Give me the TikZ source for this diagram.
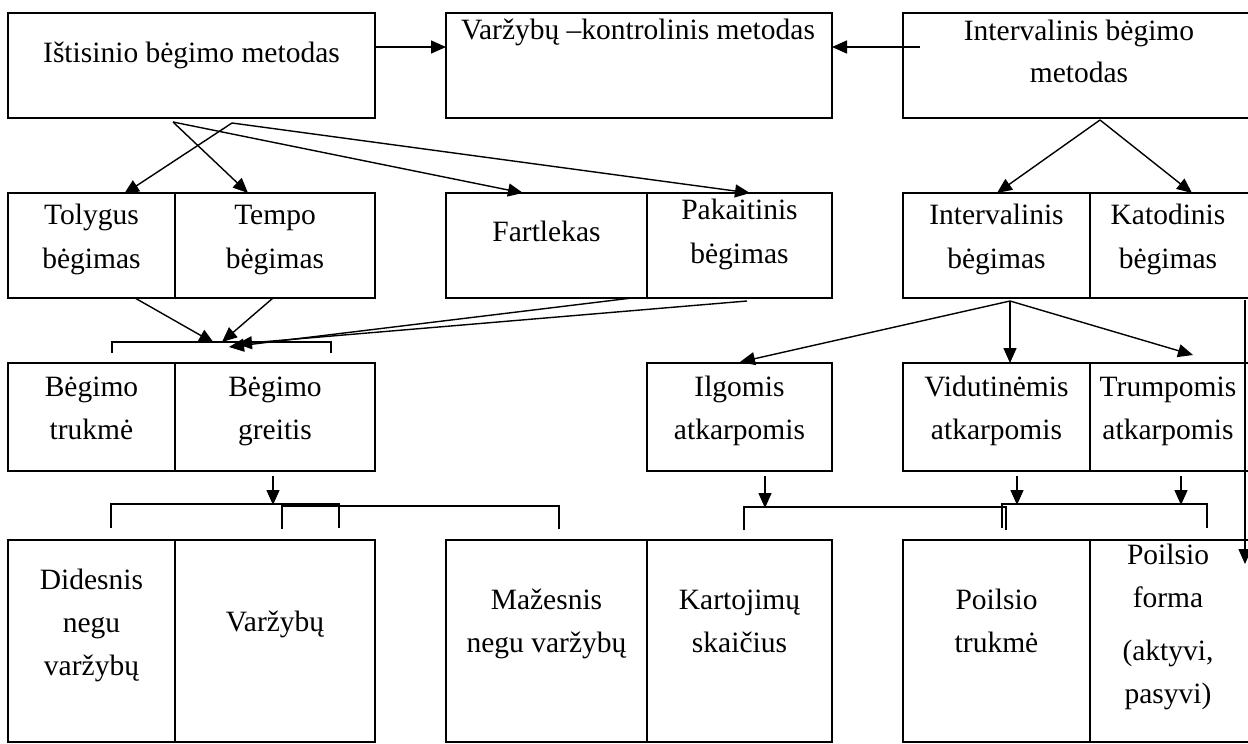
\documentclass[tikz,border=0pt]{standalone}
\usepackage{fontspec}
\setmainfont{Liberation Serif}
\usetikzlibrary{arrows.meta}
\newcommand{\mlines}[1]{\begin{tabular}[t]{@{}c@{}}#1\end{tabular}}
\begin{document}
\begin{tikzpicture}[x=1pt,y=-1pt,
  box/.style={draw, line width=1.6pt, anchor=north west, inner sep=0pt, outer sep=0pt},
  txt/.style={anchor=base, inner sep=0pt, font=\fontsize{29.5}{43}\selectfont},
  arr/.style={line width=1.4pt, -{Triangle[length=15pt,width=13pt]}},
  ln/.style={line width=1.4pt}]
\useasboundingbox (0,0) rectangle (1248,744);
\fill[white] (0,0) rectangle (1248,744);
% row 1
\node[box, minimum width=367pt, minimum height=105pt] (b1) at (8,13) {};
\node[box, minimum width=386pt, minimum height=105pt] (b2) at (446,13) {};
\node[box, minimum width=346pt, minimum height=105pt] (b3) at (903,13) {};
% row 2
\node[box, minimum width=167pt, minimum height=105pt] (r2a) at (8,193) {};
\node[box, minimum width=200pt, minimum height=105pt] (r2b) at (175,193) {};
\node[box, minimum width=201pt, minimum height=105pt] (r2c) at (446,193) {};
\node[box, minimum width=185pt, minimum height=105pt] (r2d) at (647,193) {};
\node[box, minimum width=187pt, minimum height=105pt] (r2e) at (903,193) {};
\node[box, minimum width=159pt, minimum height=105pt] (r2f) at (1090,193) {};
% row 3
\node[box, minimum width=167pt, minimum height=108pt] (r3a) at (8,363) {};
\node[box, minimum width=200pt, minimum height=108pt] (r3b) at (175,363) {};
\node[box, minimum width=185pt, minimum height=108pt] (r3c) at (647,363) {};
\node[box, minimum width=187pt, minimum height=108pt] (r3d) at (903,363) {};
\node[box, minimum width=159pt, minimum height=108pt] (r3e) at (1090,363) {};
% row 4
\node[box, minimum width=167pt, minimum height=202pt] (r4a) at (8,540) {};
\node[box, minimum width=200pt, minimum height=202pt] (r4b) at (175,540) {};
\node[box, minimum width=201pt, minimum height=202pt] (r4c) at (446,540) {};
\node[box, minimum width=185pt, minimum height=202pt] (r4d) at (647,540) {};
\node[box, minimum width=187pt, minimum height=202pt] (r4e) at (903,540) {};
\node[box, minimum width=159pt, minimum height=202pt] (r4f) at (1090,540) {};
% texts
\node[txt] (t1) at (191.5,62) {Ištisinio bėgimo metodas};
\node[txt] (t2) at (638,39) {Varžybų –kontrolinis metodas};
\node[txt] (t3) at (1079,40) {\mlines{Intervalinis bėgimo\\[-1pt]metodas}};
\node[txt] (t2a) at (91.5,224) {\mlines{Tolygus\\[1pt]bėgimas}};
\node[txt] (t2b) at (275,224) {\mlines{Tempo\\[1pt]bėgimas}};
\node[txt] (t2c) at (546.5,241) {Fartlekas};
\node[txt] (t2d) at (739.5,219) {\mlines{Pakaitinis\\[1pt]bėgimas}};
\node[txt] (t2e) at (996.5,224) {\mlines{Intervalinis\\[1pt]bėgimas}};
\node[txt] (t2f) at (1168,224) {\mlines{Katodinis\\[1pt]bėgimas}};
\node[txt] (t3a) at (91.5,396) {\mlines{Bėgimo\\trukmė}};
\node[txt] (t3b) at (275,396) {\mlines{Bėgimo\\greitis}};
\node[txt] (t3c) at (739.5,396) {\mlines{Ilgomis\\atkarpomis}};
\node[txt] (t3d) at (996.5,396) {\mlines{Vidutinėmis\\atkarpomis}};
\node[txt] (t3e) at (1168,396) {\mlines{Trumpomis\\atkarpomis}};
\node[txt] (t4a) at (91.5,589) {\mlines{Didesnis\\negu\\varžybų}};
\node[txt] (t4b) at (275,631) {Varžybų};
\node[txt] (t4c) at (546.5,609) {\mlines{Mažesnis\\negu varžybų}};
\node[txt] (t4d) at (739.5,609) {\mlines{Kartojimų\\skaičius}};
\node[txt] (t4e) at (996.5,609) {\mlines{Poilsio\\trukmė}};
\node[txt] (t4f) at (1168,564) {\mlines{Poilsio\\forma\\[10pt](aktyvi,\\pasyvi)}};
% connectors row 1
\draw[arr] ([yshift=-34pt]b1.north east) -- ([yshift=-34pt]b2.north west);
\draw[arr] ([xshift=17pt,yshift=-34pt]b3.north west) -- ([yshift=-34pt]b2.north east);
\coordinate (s1) at ([xshift=165pt,yshift=-4pt]b1.south west);
\coordinate (s2) at ([xshift=224pt,yshift=-5pt]b1.south west);
\draw[arr] (s2) -- ([xshift=116pt,yshift=-1pt]r2a.north west);
\draw[arr] (s1) -- ([xshift=73pt]r2b.north west);
\draw[arr] (s1) -- ([xshift=77pt]r2c.north west);
\draw[arr] (s2) -- ([xshift=103pt]r2d.north west);
\coordinate (s3) at ([xshift=197pt,yshift=-2pt]b3.south west);
\draw[arr] (s3) -- ([xshift=94pt]r2e.north west);
\draw[arr] (s3) -- ([xshift=102pt]r2f.north west);
% row 2 -> row 3 left
\coordinate (k1) at (214,343);
\coordinate (k2) at (222,342);
\coordinate (k3) at (229,347);
\coordinate (k4) at (237,344);
\draw[arr] ([xshift=127pt]r2a.south west) -- (k1);
\draw[arr] ([xshift=98pt]r2b.south west) -- (k2);
\draw[arr] ([xshift=186pt]r2c.south west) -- (k3);
\draw[arr] ([xshift=100pt,yshift=-3pt]r2d.south west) -- (k4);
\draw[ln] (112,353) -- (112,342) -- (331,342) -- (331,353);
% row 2 -> row 3 right
\coordinate (s4) at ([xshift=107pt,yshift=-3pt]r2e.south west);
\draw[arr] (s4) -- ([xshift=93pt,yshift=1pt]r3c.north west);
\draw[arr] (s4) -- ([xshift=107pt]r3d.north west);
\draw[arr] (s4) -- (1193,355);
\coordinate (rv) at (1245,300);
\draw[arr] (rv) -- (1245,564);
% row 3 -> row 4
\draw[arr] ([xshift=98pt,yshift=-5pt]r3b.south west) -- ++(0,29);
\draw[ln] (111,528) -- (111,504) -- (339,504) -- (339,528);
\draw[ln] (282,529) -- (282,506) -- (559,506) -- (559,529);
\draw[arr] ([xshift=118pt,yshift=-5pt]r3c.south west) -- ++(0,32);
\draw[arr] ([xshift=114pt,yshift=-5pt]r3d.south west) -- ++(0,29);
\draw[arr] ([xshift=91pt,yshift=-5pt]r3e.south west) -- ++(0,29);
\draw[ln] (744,530) -- (744,507) -- (1006,507) -- (1006,530);
\draw[ln] (1002,528) -- (1002,504) -- (1207,504) -- (1207,528);
\end{tikzpicture}
\end{document}
